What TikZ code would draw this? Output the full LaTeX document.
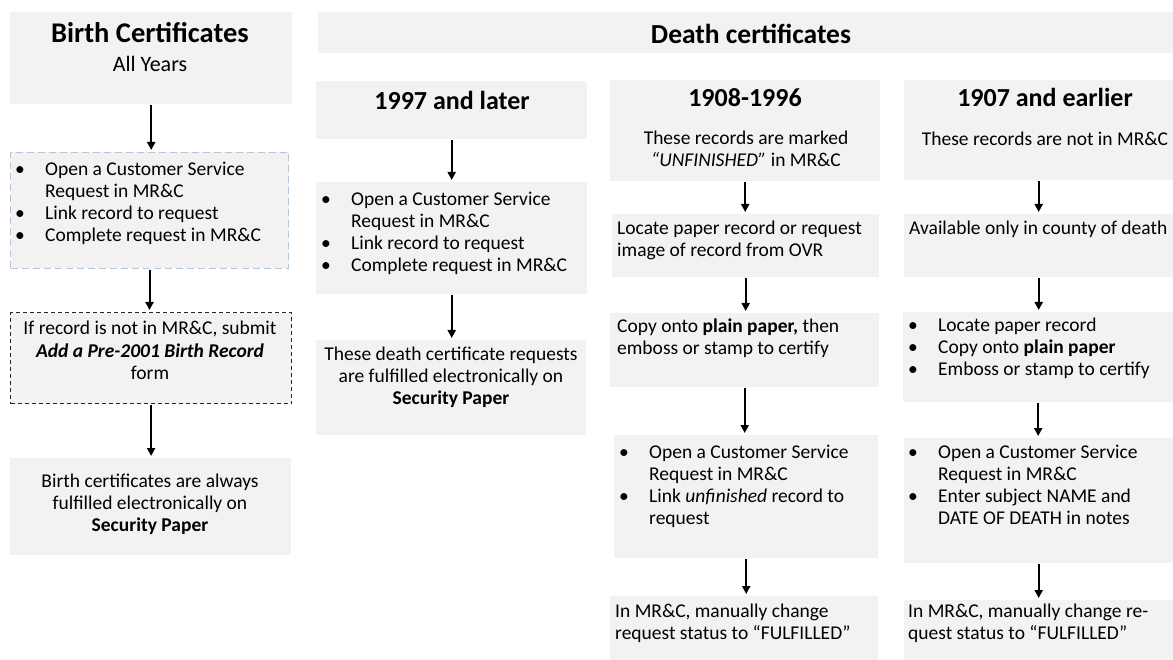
\documentclass[tikz,border=0pt]{standalone}
\usepackage{fontspec}
\setmainfont{Carlito}
\usetikzlibrary{arrows.meta}
\definecolor{boxgray}{HTML}{F2F2F2}
\definecolor{dashblue}{HTML}{B4C6DA}
\newcommand{\body}{\fontsize{19.5}{22}\selectfont}
\newcommand{\itm}{\makebox[30pt][l]{\textbullet}}

\begin{document}
\begin{tikzpicture}[x=1pt, y=-1pt,
        box/.style={rectangle, fill=boxgray, anchor=north west, inner sep=0pt},
        txt/.style={inner sep=0pt, font=\body},
        title/.style={inner sep=0pt, anchor=base, font=\bfseries\fontsize{26}{30}\selectfont},
        arr/.style={-{Triangle[length=8pt, width=8pt]}, line width=2pt, shorten <=1pt, shorten >=2pt}
    ]
    \useasboundingbox (0,0) rectangle (1173,660);

    % birth certificates
    \node[box, minimum width=282, minimum height=92] (b1) at (10,12) {};
    \node[box, minimum width=278, minimum height=116, draw=dashblue, dash pattern=on 7pt off 4pt, line width=1pt] (b2) at (10,152) {};
    \node[box, minimum width=281, minimum height=91, draw=black!85, dash pattern=on 4pt off 3pt, line width=1.2pt] (b3) at (10,312) {};
    \node[box, minimum width=281, minimum height=97] (b4) at (10,458) {};

    \node[title, font=\bfseries\fontsize{28.5}{32}\selectfont] (b1t) at (150,43) {Birth Certificates};
    \node[txt, anchor=base, font=\fontsize{22}{26}\selectfont] (b1s) at (150,72) {All Years};
    \node[txt, anchor=base west] (b2t) at (15,176) {\begin{tabular}[t]{@{}l@{}l@{}}
        \itm & Open a Customer Service\\
             & Request in MR\&C\\
        \itm & Link record to request\\
        \itm & Complete request in MR\&C
    \end{tabular}};
    \node[txt, anchor=base] (b3t) at (150,335) {\begin{tabular}[t]{@{}c@{}}
        If record is not in MR\&C, submit\\
        \textbf{\textit{Add a Pre-2001 Birth Record}}\\
        form
    \end{tabular}};
    \node[txt, anchor=base] (b4t) at (150,487) {\begin{tabular}[t]{@{}c@{}}
        Birth certificates are always\\
        fulfilled electronically on\\
        \textbf{Security Paper}
    \end{tabular}};

    % death certificates
    \node[box, minimum width=855, minimum height=41] (dh) at (318,12) {};
    \node[title, font=\bfseries\fontsize{27.5}{32}\selectfont] (dht) at (751,44) {Death certificates};

    % 1997 and later
    \node[box, minimum width=271, minimum height=58] (c1a) at (316,81) {};
    \node[box, minimum width=271, minimum height=112] (c1b) at (316,182) {};
    \node[box, minimum width=270, minimum height=95] (c1c) at (316,340) {};

    \node[title] (c1at) at (452,110) {1997 and later};
    \node[txt, anchor=base west] (c1bt) at (321,206) {\begin{tabular}[t]{@{}l@{}l@{}}
        \itm & Open a Customer Service\\
             & Request in MR\&C\\
        \itm & Link record to request\\
        \itm & Complete request in MR\&C
    \end{tabular}};
    \node[txt, anchor=base] (c1ct) at (451,360) {\begin{tabular}[t]{@{}c@{}}
        These death certificate requests\\
        are fulfilled electronically on\\
        \textbf{Security Paper}
    \end{tabular}};

    % 1908-1996
    \node[box, minimum width=270, minimum height=101] (c2a) at (610,80) {};
    \node[box, minimum width=267, minimum height=63] (c2b) at (612,214) {};
    \node[box, minimum width=269, minimum height=74] (c2c) at (610,313) {};
    \node[box, minimum width=264, minimum height=123] (c2d) at (614,435) {};
    \node[box, minimum width=268, minimum height=64] (c2e) at (610,596) {};

    \node[title] (c2at) at (745,107) {1908-1996};
    \node[txt, anchor=base] (c2as) at (746,145) {\begin{tabular}[t]{@{}c@{}}
        These records are marked\\
        \textit{“UNFINISHED”} in MR\&C
    \end{tabular}};
    \node[txt, anchor=base west] (c2bt) at (617,235) {\begin{tabular}[t]{@{}l@{}}
        Locate paper record or request\\
        image of record from OVR
    \end{tabular}};
    \node[txt, anchor=base west] (c2ct) at (617,333) {\begin{tabular}[t]{@{}l@{}}
        Copy onto \textbf{plain paper,} then\\
        emboss or stamp to certify
    \end{tabular}};
    \node[txt, anchor=base west] (c2dt) at (619,458) {\begin{tabular}[t]{@{}l@{}l@{}}
        \itm & Open a Customer Service\\
             & Request in MR\&C\\
        \itm & Link \textit{unfinished} record to\\
             & request
    \end{tabular}};
    \node[txt, anchor=base west] (c2et) at (615,617) {\begin{tabular}[t]{@{}l@{}}
        In MR\&C, manually change\\
        request status to “FULFILLED”
    \end{tabular}};

    % 1907 and earlier
    \node[box, minimum width=269, minimum height=100] (c3a) at (904,80) {};
    \node[box, minimum width=269, minimum height=63] (c3b) at (904,214) {};
    \node[box, minimum width=270, minimum height=90] (c3c) at (903,312) {};
    \node[box, minimum width=269, minimum height=125] (c3d) at (904,438) {};
    \node[box, minimum width=269, minimum height=60] (c3e) at (904,600) {};

    \node[title] (c3at) at (1045,107) {1907 and earlier};
    \node[txt, anchor=base] (c3as) at (1045,146) {These records are not in MR\&C};
    \node[txt, anchor=base west] (c3bt) at (909,235) {Available only in county of death};
    \node[txt, anchor=base west] (c3ct) at (908,332) {\begin{tabular}[t]{@{}l@{}l@{}}
        \itm & Locate paper record\\
        \itm & Copy onto \textbf{plain paper}\\
        \itm & Emboss or stamp to certify
    \end{tabular}};
    \node[txt, anchor=base west] (c3dt) at (908,458) {\begin{tabular}[t]{@{}l@{}l@{}}
        \itm & Open a Customer Service\\
             & Request in MR\&C\\
        \itm & Enter subject NAME and\\
             & DATE OF DEATH in notes
    \end{tabular}};
    \node[txt, anchor=base west] (c3et) at (908,617) {\begin{tabular}[t]{@{}l@{}}
        In MR\&C, manually change re-\\
        quest status to “FULFILLED”
    \end{tabular}};

    % arrows
    \foreach \a/\b in {b1/b2, b2/b3, b3/b4, c1a/c1b, c1b/c1c,
                       c2a/c2b, c2b/c2c, c2c/c2d, c2d/c2e,
                       c3a/c3b, c3b/c3c, c3c/c3d, c3d/c3e}
        \draw[arr] (\a.south) -- (\a.south |- \b.north);
\end{tikzpicture}
\end{document}
